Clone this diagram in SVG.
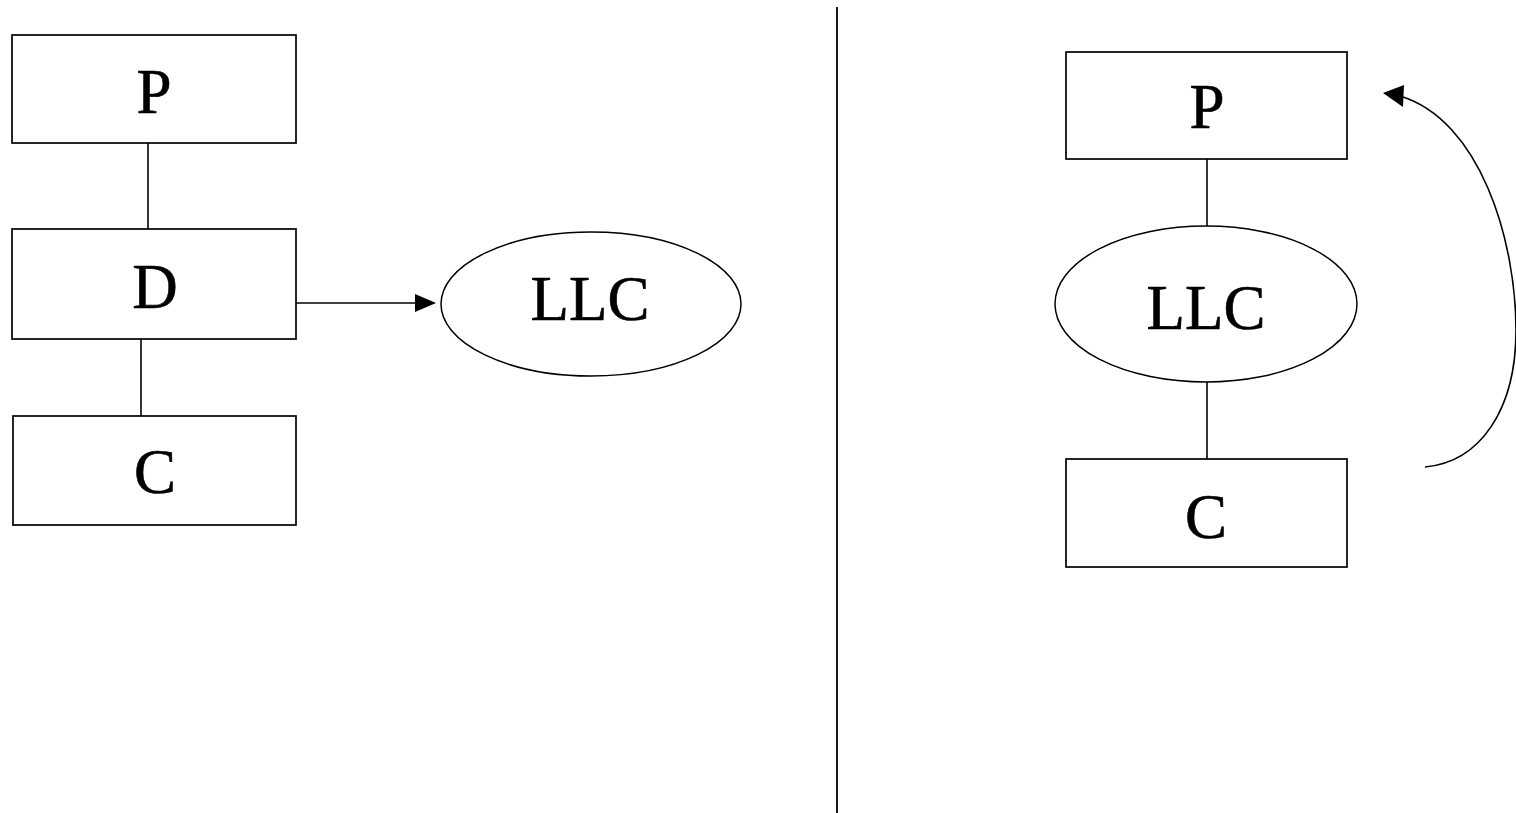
<svg xmlns="http://www.w3.org/2000/svg" width="1516" height="813" viewBox="0 0 1516 813">
<style>
.box{fill:#fff;stroke:#000;stroke-width:1.7}
.ell{fill:#fff;stroke:#000;stroke-width:1.5}
.ln{fill:none;stroke:#000;stroke-width:1.6}
.t{font-family:"Liberation Serif","Times New Roman",serif;font-size:63px;fill:#000;stroke:#000;stroke-width:0.6;text-anchor:middle}
</style>
<rect width="1516" height="813" fill="#fff"/>
<g id="connectors">
<line class="ln" x1="148" y1="143" x2="148" y2="229"/>
<line class="ln" x1="141" y1="339" x2="141" y2="416"/>
<line class="ln" x1="293" y1="303" x2="418" y2="303"/>
<polygon points="436,303 415,294 415,312" fill="#000"/>
<line class="ln" x1="1207" y1="158" x2="1207" y2="236"/>
<line class="ln" x1="1207" y1="381" x2="1207" y2="459"/>
<path class="ln" d="M1425,467 C1480,462 1516,410 1516,330 C1516,240 1480,120 1400,96"/>
<polygon points="1383,93 1404,85 1403,107" fill="#000"/>
</g>
<line id="divider" x1="837" y1="7" x2="837" y2="813" stroke="#000" stroke-width="1.8"/>
<g id="left-P"><rect class="box" x="12" y="35" width="284" height="108"/><text class="t" x="154" y="113">P</text></g>
<g id="left-D"><rect class="box" x="12" y="229" width="284" height="110"/><text class="t" x="155" y="308">D</text></g>
<g id="left-C"><rect class="box" x="13" y="416" width="283" height="109"/><text class="t" x="155" y="493">C</text></g>
<g id="left-LLC"><ellipse class="ell" cx="591" cy="304" rx="150" ry="72"/><text class="t" x="590" y="320">LLC</text></g>
<g id="right-P"><rect class="box" x="1066" y="52" width="281" height="107"/><text class="t" x="1207" y="128">P</text></g>
<g id="right-LLC"><ellipse class="ell" cx="1206" cy="304" rx="151" ry="78"/><text class="t" x="1206" y="329">LLC</text></g>
<g id="right-C"><rect class="box" x="1066" y="459" width="281" height="108"/><text class="t" x="1206" y="538">C</text></g>
</svg>
